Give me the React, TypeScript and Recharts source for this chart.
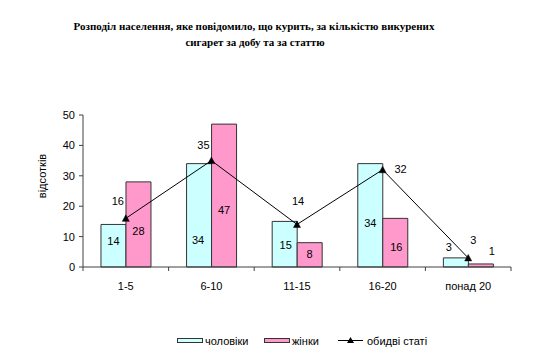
import React from 'react';
import { ComposedChart, Bar, Line, XAxis, YAxis, LabelList } from 'recharts';

const categories = ['1-5', '6-10', '11-15', '16-20', 'понад 20'];
const men = [14, 34, 15, 34, 3];
const women = [28, 47, 8, 16, 1];
const both = [16, 35, 14, 32, 3];
const yTicks = [0, 10, 20, 30, 40, 50];

const title1 = 'Розподіл населення, яке повідомило, що курить, за кількістю викурених';
const title2 = 'сигарет за добу та за статтю';
const yLabel = 'відсотків';
const legendNames = ['чоловіки', 'жінки', 'обидві статі'];

// label nudges (dx, dy) — placement tweaks, not data
const menLabelShift = [[0, 17], [-1, 76], [1, 24], [0, 59], [-7, -11]];
const womenLabelShift = [[0, 49], [0, 86], [0, 11], [1, 29], [11, -13]];
const bothLabelShift = [[-8, -17], [-8, -16], [1, -23], [18, -1], [5, -18]];

const data = categories.map((c, i) => ({ cat: c, men: men[i], women: women[i], both: both[i] }));

const FONT = 'Arial, "Liberation Sans", sans-serif';
const MEN_COLOR = '#CCFFFF';
const WOMEN_COLOR = '#FF99CC';
const EDGE = '#333333';
const AXIS = '#404040';

const barLabel = (shifts: number[][]) => (props: any) => {
  const { x, y, width, index, value } = props;
  const s = shifts[index] || [0, 0];
  return (
    <text
      x={Number(x) + Number(width) / 2 + s[0]}
      y={Number(y) + s[1]}
      textAnchor="middle"
      dominantBaseline="central"
      fontFamily={FONT}
      fontSize={11}
      fill="#000"
    >
      {value}
    </text>
  );
};

const lineLabel = (props: any) => {
  const { x, y, index, value } = props;
  const s = bothLabelShift[index] || [0, 0];
  return (
    <text
      x={Number(x) + s[0]}
      y={Number(y) + s[1]}
      textAnchor="middle"
      dominantBaseline="central"
      fontFamily={FONT}
      fontSize={11}
      fill="#000"
    >
      {value}
    </text>
  );
};

const Triangle = (props: any) => {
  const { cx, cy } = props;
  if (cx == null || cy == null) return null;
  return (
    <polygon
      points={`${cx - 3.5},${cy + 3} ${cx + 3.5},${cy + 3} ${cx},${cy - 3.5}`}
      fill="#000"
      stroke="#000"
      strokeWidth={0.5}
    />
  );
};

const TICK_SIZE = 5;
const TICK_MARGIN = 10;

const XTick = (props: any) => {
  const { x, y, payload, index, width } = props;
  const band = (Number(width) || 428) / categories.length;
  const axisY = Number(y) - TICK_SIZE - TICK_MARGIN;
  const left = Number(x) - band / 2;
  const right = Number(x) + band / 2;
  return (
    <g>
      <line x1={left} y1={axisY} x2={left} y2={axisY + 4} stroke={AXIS} />
      {index === categories.length - 1 && (
        <line x1={right} y1={axisY} x2={right} y2={axisY + 4} stroke={AXIS} />
      )}
      <text x={x} y={y} dy="0.71em" textAnchor="middle" fontFamily={FONT} fontSize={11} fill="#000">
        {payload.value}
      </text>
    </g>
  );
};

const Legend = () => (
  <div
    style={{
      position: 'absolute',
      left: 0,
      top: 332,
      width: 554,
      height: 18,
      fontFamily: FONT,
      fontSize: 11,
      color: '#000',
    }}
  >
    <svg width={554} height={18} style={{ position: 'absolute', left: 0, top: 0 }}>
      <rect x={177.5} y={6.5} width={25} height={4} fill={MEN_COLOR} stroke={EDGE} />
      <text x={205} y={9} dominantBaseline="central" fontFamily={FONT} fontSize={11}>{legendNames[0]}</text>
      <rect x={264.5} y={6.5} width={25} height={4} fill={WOMEN_COLOR} stroke={EDGE} />
      <text x={292} y={9} dominantBaseline="central" fontFamily={FONT} fontSize={11}>{legendNames[1]}</text>
      <line x1={338} y1={8.5} x2={363} y2={8.5} stroke="#000" />
      <polygon points="347,11 354,11 350.5,5" fill="#000" />
      <text x={367} y={9} dominantBaseline="central" fontFamily={FONT} fontSize={11}>{legendNames[2]}</text>
    </svg>
  </div>
);

export default function App() {
  return (
    <div style={{ position: 'absolute', left: 0, top: 0, width: 554, height: 363, background: '#fff' }}>
      <svg width={554} height={60} style={{ position: 'absolute', left: 0, top: 0 }}>
        <text x={254} y={26} textAnchor="middle" dominantBaseline="central"
          fontFamily='"Liberation Serif", "Times New Roman", serif' fontWeight="bold" fontSize={11}>
          {title1}
        </text>
        <text x={255} y={42} textAnchor="middle" dominantBaseline="central"
          fontFamily='"Liberation Serif", "Times New Roman", serif' fontWeight="bold" fontSize={11}>
          {title2}
        </text>
      </svg>
      <svg width={60} height={363} style={{ position: 'absolute', left: 0, top: 0 }}>
        <text x={42} y={176} textAnchor="middle" dominantBaseline="central"
          transform="rotate(-90 42 176)" fontFamily={FONT} fontSize={11}>
          {yLabel}
        </text>
      </svg>
      <div style={{ position: 'absolute', left: 0, top: 0 }}>
        <ComposedChart
          width={554}
          height={363}
          data={data}
          margin={{ top: 115, right: 43, left: 43, bottom: 66 }}
          barCategoryGap="21%"
          barGap={0}
        >
          <XAxis
            dataKey="cat"
            height={30}
            tickLine={false}
            tickSize={TICK_SIZE}
            tickMargin={TICK_MARGIN}
            axisLine={{ stroke: AXIS }}
            tick={<XTick />}
            interval={0}
          />
          <YAxis
            width={40}
            domain={[0, 50]}
            ticks={yTicks}
            interval={0}
            tickSize={4}
            tickMargin={4}
            axisLine={{ stroke: AXIS }}
            tickLine={{ stroke: AXIS }}
            tick={{ fontFamily: FONT, fontSize: 11, fill: '#000' }}
          />
          <Bar dataKey="men" fill={MEN_COLOR} stroke={EDGE} strokeWidth={1} isAnimationActive={false}>
            <LabelList dataKey="men" content={barLabel(menLabelShift)} />
          </Bar>
          <Bar dataKey="women" fill={WOMEN_COLOR} stroke={EDGE} strokeWidth={1} isAnimationActive={false}>
            <LabelList dataKey="women" content={barLabel(womenLabelShift)} />
          </Bar>
          <Line
            dataKey="both"
            type="linear"
            stroke="#000"
            strokeWidth={1}
            dot={<Triangle />}
            activeDot={false}
            isAnimationActive={false}
          >
            <LabelList dataKey="both" content={lineLabel} />
          </Line>
        </ComposedChart>
      </div>
      <Legend />
    </div>
  );
}
